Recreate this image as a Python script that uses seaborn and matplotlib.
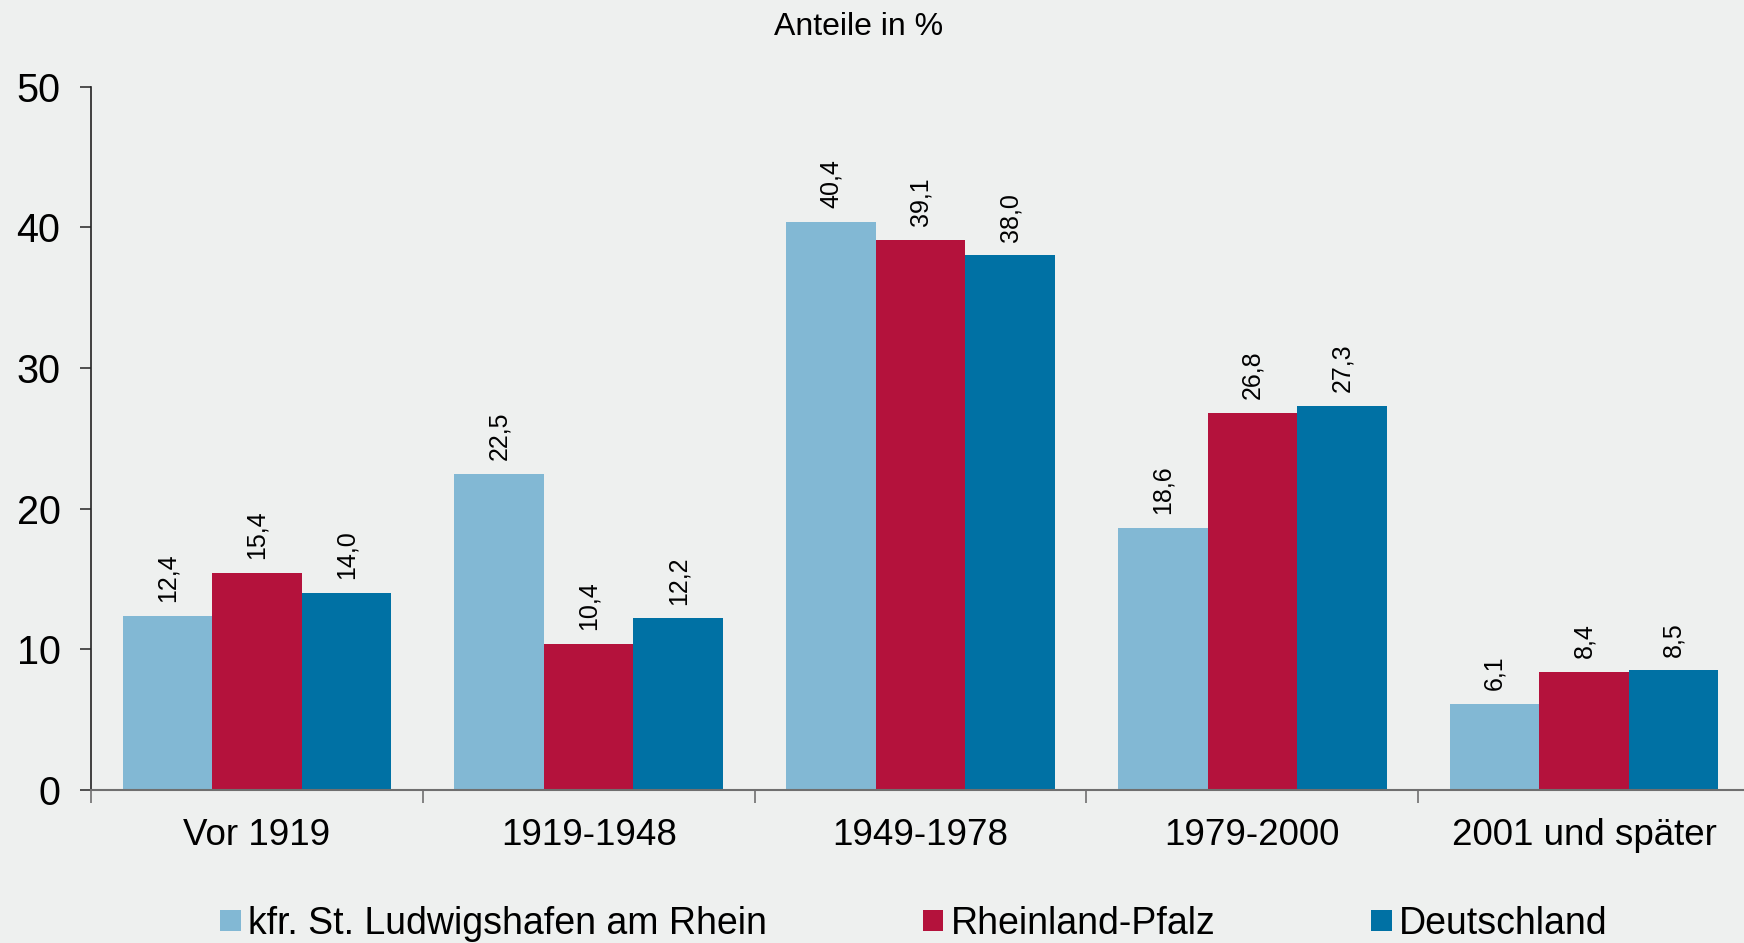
import matplotlib
matplotlib.use("Agg")
import matplotlib.pyplot as plt
import seaborn as sns
import pandas as pd
from matplotlib.ticker import FixedLocator, NullFormatter

categories = ["Vor 1919", "1919-1948", "1949-1978", "1979-2000", "2001 und später"]
series_names = ["kfr. St. Ludwigshafen am Rhein", "Rheinland-Pfalz", "Deutschland"]
ludwigshafen = [12.4, 22.5, 40.4, 18.6, 6.1]
rheinland_pfalz = [15.4, 10.4, 39.1, 26.8, 8.4]
deutschland = [14.0, 12.2, 38.0, 27.3, 8.5]
yticks = [0, 10, 20, 30, 40, 50]
title_text = "Anteile in %"

colors = ["#82B8D4", "#B4123C", "#0071A4"]
bg = "#EEF0EF"

rows = []
for name, vals in zip(series_names, [ludwigshafen, rheinland_pfalz, deutschland]):
    for c, v in zip(categories, vals):
        rows.append({"Kategorie": c, "Gebiet": name, "Wert": v})
df = pd.DataFrame(rows)

sns.set_theme(style="white")
plt.rcParams["font.family"] = ["Liberation Sans", "DejaVu Sans"]
plt.rcParams["text.color"] = "black"
plt.rcParams["axes.labelcolor"] = "black"
plt.rcParams["xtick.color"] = "black"
plt.rcParams["ytick.color"] = "black"

W, H = 1744, 943
fig = plt.figure(figsize=(W / 100, H / 100), dpi=100, facecolor=bg)
ax = fig.add_axes([91 / W, (H - 790) / H, 1659 / W, (790 - 86.7) / H])
ax.set_facecolor(bg)

sns.barplot(data=df, x="Kategorie", y="Wert", hue="Gebiet", order=categories,
            hue_order=series_names, palette=colors, width=0.81, linewidth=0,
            saturation=1, ax=ax, legend=True)

for cont in ax.containers:
    vals = cont.datavalues
    ax.bar_label(cont, labels=[f"{v:.1f}".replace(".", ",") for v in vals],
                 rotation=90, padding=10, fontsize=18, color="black")

ax.set_xlim(-0.5, len(categories) - 0.5)
ax.set_ylim(0, 50)
ax.set_yticks(yticks)
ax.set_yticklabels([str(t) for t in yticks])
ax.set_xlabel("")
ax.set_ylabel("")

# x: labels at centers (no tick), separators as minor ticks
ax.xaxis.set_minor_locator(FixedLocator([i - 0.5 for i in range(len(categories) + 1)]))
ax.xaxis.set_minor_formatter(NullFormatter())
ax.tick_params(axis="x", which="major", length=0, pad=20, labelsize=26.5, labelcolor="black")
ax.tick_params(axis="x", which="minor", length=9, width=1.2, color="#6f6f6f", direction="out", bottom=True)
ax.tick_params(axis="y", which="major", length=8, width=1.2, color="#333333", direction="out",
               pad=14, labelsize=28.5, labelcolor="black", left=True)

for s in ["top", "right"]:
    ax.spines[s].set_visible(False)
ax.spines["left"].set_color("#222222")
ax.spines["left"].set_linewidth(1.2)
ax.spines["bottom"].set_color("#6f6f6f")
ax.spines["bottom"].set_linewidth(1.5)

fig.text(859 / W, 1 - 27 / H, title_text, ha="center", va="center", fontsize=23, color="black")

handles, labels = ax.get_legend_handles_labels()
if ax.get_legend() is not None:
    ax.get_legend().remove()
leg = fig.legend(handles, labels, loc="center left", bbox_to_anchor=(220 / W, 19 / H),
                 ncol=3, frameon=False, fontsize=27, handlelength=0.55, handleheight=0.5,
                 handletextpad=0.2, columnspacing=4.15, borderpad=0, borderaxespad=0)
for t in leg.get_texts():
    t.set_color("black")

fig.savefig("out.png", dpi=100, facecolor=bg)
